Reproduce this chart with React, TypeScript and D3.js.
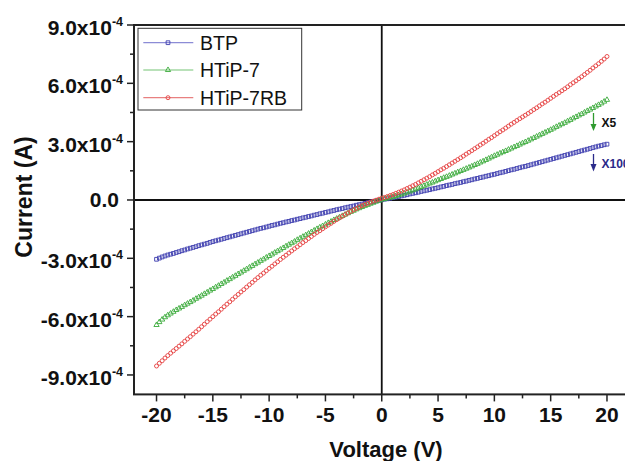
import React from "react";
import * as d3 from "d3";

const voltage = [
  -20, -19.75, -19.5, -19.25, -19, -18.75, -18.5, -18.25, -18, -17.75, -17.5, -17.25,
  -17, -16.75, -16.5, -16.25, -16, -15.75, -15.5, -15.25, -15, -14.75, -14.5, -14.25,
  -14, -13.75, -13.5, -13.25, -13, -12.75, -12.5, -12.25, -12, -11.75, -11.5, -11.25,
  -11, -10.75, -10.5, -10.25, -10, -9.75, -9.5, -9.25, -9, -8.75, -8.5, -8.25,
  -8, -7.75, -7.5, -7.25, -7, -6.75, -6.5, -6.25, -6, -5.75, -5.5, -5.25,
  -5, -4.75, -4.5, -4.25, -4, -3.75, -3.5, -3.25, -3, -2.75, -2.5, -2.25,
  -2, -1.75, -1.5, -1.25, -1, -0.75, -0.5, -0.25, 0, 0.25, 0.5, 0.75,
  1, 1.25, 1.5, 1.75, 2, 2.25, 2.5, 2.75, 3, 3.25, 3.5, 3.75,
  4, 4.25, 4.5, 4.75, 5, 5.25, 5.5, 5.75, 6, 6.25, 6.5, 6.75,
  7, 7.25, 7.5, 7.75, 8, 8.25, 8.5, 8.75, 9, 9.25, 9.5, 9.75,
  10, 10.25, 10.5, 10.75, 11, 11.25, 11.5, 11.75, 12, 12.25, 12.5, 12.75,
  13, 13.25, 13.5, 13.75, 14, 14.25, 14.5, 14.75, 15, 15.25, 15.5, 15.75,
  16, 16.25, 16.5, 16.75, 17, 17.25, 17.5, 17.75, 18, 18.25, 18.5, 18.75,
  19, 19.25, 19.5, 19.75, 20,
];

// Current in units of 1e-4 A
const btp = [
  -3.05, -2.99, -2.93, -2.88, -2.83, -2.79, -2.75, -2.7, -2.66, -2.61, -2.57, -2.52,
  -2.48, -2.44, -2.4, -2.35, -2.31, -2.27, -2.23, -2.18, -2.14, -2.1, -2.06, -2.02,
  -1.98, -1.94, -1.9, -1.86, -1.82, -1.78, -1.74, -1.7, -1.66, -1.62, -1.58, -1.54,
  -1.5, -1.46, -1.43, -1.39, -1.35, -1.31, -1.28, -1.24, -1.2, -1.17, -1.13, -1.1,
  -1.06, -1.03, -0.99, -0.96, -0.92, -0.89, -0.85, -0.82, -0.78, -0.75, -0.71, -0.68,
  -0.64, -0.61, -0.57, -0.54, -0.5, -0.47, -0.44, -0.4, -0.37, -0.34, -0.31, -0.27,
  -0.24, -0.21, -0.18, -0.14, -0.11, -0.08, -0.05, -0.02, 0.01, 0.04, 0.06, 0.09,
  0.12, 0.15, 0.18, 0.21, 0.24, 0.27, 0.31, 0.34, 0.37, 0.4, 0.44, 0.47,
  0.5, 0.53, 0.57, 0.6, 0.63, 0.67, 0.7, 0.74, 0.77, 0.8, 0.84, 0.87,
  0.9, 0.94, 0.97, 1.01, 1.04, 1.08, 1.11, 1.15, 1.18, 1.22, 1.25, 1.29,
  1.32, 1.36, 1.4, 1.43, 1.47, 1.51, 1.55, 1.58, 1.62, 1.66, 1.7, 1.73,
  1.77, 1.81, 1.85, 1.89, 1.93, 1.97, 2.01, 2.05, 2.09, 2.13, 2.17, 2.21,
  2.25, 2.29, 2.33, 2.37, 2.41, 2.45, 2.49, 2.53, 2.57, 2.61, 2.65, 2.69,
  2.73, 2.77, 2.8, 2.84, 2.87,
];

const htip7 = [
  -6.43, -6.28, -6.15, -6.03, -5.93, -5.84, -5.75, -5.66, -5.58, -5.5, -5.41, -5.33,
  -5.25, -5.17, -5.08, -5.0, -4.92, -4.83, -4.75, -4.66, -4.58, -4.49, -4.41, -4.32,
  -4.24, -4.15, -4.07, -3.98, -3.9, -3.81, -3.73, -3.64, -3.56, -3.47, -3.39, -3.3,
  -3.22, -3.13, -3.05, -2.96, -2.88, -2.8, -2.71, -2.63, -2.55, -2.47, -2.38, -2.3,
  -2.22, -2.14, -2.05, -1.97, -1.89, -1.81, -1.73, -1.65, -1.57, -1.49, -1.41, -1.34,
  -1.26, -1.18, -1.11, -1.03, -0.96, -0.89, -0.82, -0.75, -0.68, -0.61, -0.55, -0.48,
  -0.42, -0.36, -0.3, -0.25, -0.19, -0.14, -0.08, -0.03, 0.02, 0.05, 0.09, 0.12,
  0.16, 0.2, 0.25, 0.29, 0.34, 0.39, 0.44, 0.5, 0.55, 0.61, 0.67, 0.73,
  0.79, 0.85, 0.9, 0.96, 1.02, 1.08, 1.14, 1.19, 1.25, 1.31, 1.37, 1.43,
  1.49, 1.55, 1.61, 1.67, 1.73, 1.8, 1.86, 1.93, 1.99, 2.06, 2.13, 2.2,
  2.27, 2.33, 2.4, 2.46, 2.52, 2.59, 2.65, 2.72, 2.78, 2.85, 2.92, 2.98,
  3.05, 3.12, 3.19, 3.26, 3.33, 3.4, 3.47, 3.54, 3.61, 3.68, 3.76, 3.83,
  3.9, 3.97, 4.05, 4.12, 4.2, 4.27, 4.35, 4.42, 4.5, 4.58, 4.65, 4.73,
  4.81, 4.89, 4.97, 5.06, 5.15,
];

const htip7rb = [
  -8.54, -8.4, -8.27, -8.13, -8.0, -7.88, -7.76, -7.64, -7.52, -7.4, -7.27, -7.15,
  -7.03, -6.9, -6.78, -6.65, -6.52, -6.39, -6.26, -6.13, -6.0, -5.87, -5.75, -5.62,
  -5.49, -5.36, -5.24, -5.11, -4.98, -4.86, -4.73, -4.61, -4.48, -4.36, -4.24, -4.11,
  -3.99, -3.87, -3.76, -3.64, -3.52, -3.41, -3.29, -3.18, -3.06, -2.95, -2.84, -2.73,
  -2.62, -2.51, -2.41, -2.3, -2.19, -2.09, -1.98, -1.88, -1.77, -1.67, -1.58, -1.48,
  -1.38, -1.29, -1.2, -1.1, -1.01, -0.92, -0.84, -0.75, -0.67, -0.59, -0.51, -0.44,
  -0.36, -0.29, -0.23, -0.17, -0.11, -0.06, -0.01, 0.04, 0.09, 0.13, 0.18, 0.23,
  0.28, 0.34, 0.4, 0.46, 0.52, 0.59, 0.66, 0.73, 0.8, 0.88, 0.96, 1.04,
  1.12, 1.2, 1.29, 1.37, 1.46, 1.55, 1.63, 1.72, 1.81, 1.9, 1.99, 2.08,
  2.17, 2.26, 2.36, 2.45, 2.54, 2.64, 2.73, 2.83, 2.92, 3.02, 3.12, 3.21,
  3.31, 3.41, 3.51, 3.6, 3.7, 3.8, 3.9, 3.99, 4.09, 4.18, 4.27, 4.36,
  4.45, 4.55, 4.65, 4.74, 4.84, 4.94, 5.03, 5.13, 5.23, 5.33, 5.43, 5.52,
  5.62, 5.72, 5.82, 5.93, 6.03, 6.13, 6.24, 6.34, 6.45, 6.56, 6.67, 6.79,
  6.9, 7.01, 7.13, 7.25, 7.38,
];

const seriesNames = ["BTP", "HTiP-7", "HTiP-7RB"];
const seriesColors = ["#4444b2", "#42ae42", "#e64848"];
const legendColors = ["#8c8cd6", "#74c474", "#e88080"];
const yTicks = [-9, -6, -3, 0, 3, 6, 9];
const yTickLabels = ["-9.0x10", "-6.0x10", "-3.0x10", "0.0", "3.0x10", "6.0x10", "9.0x10"];
const yMinorTicks = [-7.5, -4.5, -1.5, 1.5, 4.5, 7.5];
const xTicks = [-20, -15, -10, -5, 0, 5, 10, 15, 20];
const xMinorTicks = [-17.5, -12.5, -7.5, -2.5, 2.5, 7.5, 12.5, 17.5];
const multiplierLabels = ["X100", "X5"];

const FONT = "'Liberation Sans', Arial, Helvetica, sans-serif";

export default function App() {
  const W = 625;
  const H = 461;
  const x = d3.scaleLinear().domain([-22, 22]).range([134, 629.5]);
  const y = d3.scaleLinear().domain([-10, 9]).range([394.4, 25]);
  const left = x(-22);
  const right = x(22);
  const top = y(9);
  const bottom = y(-10);

  const series = [btp, htip7, htip7rb];
  const symSquare = d3.symbol().type(d3.symbolSquare).size(14)() as string;
  const symTri = d3.symbol().type(d3.symbolTriangle).size(12)() as string;

  const marker = (i: number, cx: number, cy: number, color: string, key: string | number) => {
    if (i === 0)
      return <path key={key} d={symSquare} transform={`translate(${cx},${cy})`} fill="none" stroke={color} strokeWidth={0.95} />;
    if (i === 1)
      return <path key={key} d={symTri} transform={`translate(${cx},${cy})`} fill="none" stroke={color} strokeWidth={0.95} />;
    return <circle key={key} cx={cx} cy={cy} r={2} fill="none" stroke={color} strokeWidth={0.95} />;
  };

  const legendY = [42.7, 70, 97.7];

  return (
    <svg width={W} height={H} style={{ position: "absolute", left: 0, top: 0, background: "#fff" }} fontFamily={FONT}>
      <rect x={0} y={0} width={W} height={H} fill="#fff" />
      {/* zero lines */}
      <line x1={x(0)} x2={x(0)} y1={top} y2={bottom} stroke="#111" strokeWidth={1.8} />
      <line x1={left} x2={right} y1={y(0)} y2={y(0)} stroke="#111" strokeWidth={1.8} />

      {/* data */}
      {series.map((vals, si) => (
        <g key={si}>
          {vals.map((v, i) => marker(si, x(voltage[i]), y(v), seriesColors[si], i))}
        </g>
      ))}

      {/* frame */}
      <rect x={left} y={top} width={right - left} height={bottom - top} fill="none" stroke="#222" strokeWidth={2} />

      {/* y ticks */}
      {yTicks.map((t, i) => (
        <g key={"yt" + t}>
          <line x1={left - 7} x2={left} y1={y(t)} y2={y(t)} stroke="#222" strokeWidth={1.5} />
          {t === 0 ? (
            <text x={119} y={y(t) + 7.5} textAnchor="end" fontSize={21} fontWeight="bold" fill="#111">
              {yTickLabels[i]}
            </text>
          ) : (
            <text x={123} y={y(t) + 10} textAnchor="end" fontSize={21} fontWeight="bold" fill="#111">
              {yTickLabels[i]}
              <tspan dy={-9} fontSize={12.5}>-4</tspan>
            </text>
          )}
        </g>
      ))}
      {yMinorTicks.map((t) => (
        <line key={"ym" + t} x1={left - 4} x2={left} y1={y(t)} y2={y(t)} stroke="#222" strokeWidth={1.5} />
      ))}

      {/* x ticks */}
      {xTicks.map((t) => (
        <g key={"xt" + t}>
          <line x1={x(t)} x2={x(t)} y1={bottom} y2={bottom + 7} stroke="#222" strokeWidth={1.5} />
          <text x={x(t)} y={422} textAnchor="middle" fontSize={21} fontWeight="bold" fill="#111">
            {t}
          </text>
        </g>
      ))}
      {xMinorTicks.map((t) => (
        <line key={"xm" + t} x1={x(t)} x2={x(t)} y1={bottom} y2={bottom + 4} stroke="#222" strokeWidth={1.5} />
      ))}

      {/* axis titles */}
      <text x={386} y={457} textAnchor="middle" fontSize={22} fontWeight="bold" fill="#111">
        Voltage (V)
      </text>
      <text transform="translate(32,197) rotate(-90)" textAnchor="middle" fontSize={23} fontWeight="bold" fill="#111">
        Current (A)
      </text>

      {/* legend */}
      <rect x={138} y={28.3} width={163.7} height={81.7} fill="#fff" stroke="#333" strokeWidth={1} />
      {seriesNames.map((name, i) => (
        <g key={name}>
          <line x1={143.3} x2={193.3} y1={legendY[i]} y2={legendY[i]} stroke={legendColors[i]} strokeWidth={1.2} />
          {marker(i, 168, legendY[i], seriesColors[i], "lm" + i)}
          <text x={200} y={legendY[i] + 7} fontSize={19.5} fill="#111">
            {name}
          </text>
        </g>
      ))}

      {/* multiplier annotations */}
      <g>
        <line x1={593.5} x2={593.5} y1={113} y2={125} stroke="#2f9a2f" strokeWidth={1.3} />
        <path d="M590.5,124 L596.5,124 L593.5,131 Z" fill="#2f9a2f" />
        <text x={601.5} y={127} fontSize={12} fontWeight="bold" fill="#111">
          {multiplierLabels[1]}
        </text>
        <line x1={593.5} x2={593.5} y1={154} y2={165} stroke="#2a2a8a" strokeWidth={1.3} />
        <path d="M590.5,164 L596.5,164 L593.5,171.5 Z" fill="#2a2a8a" />
        <text x={601.5} y={167.5} fontSize={12} fontWeight="bold" fill="#2a2a8a">
          {multiplierLabels[0]}
        </text>
      </g>
    </svg>
  );
}
